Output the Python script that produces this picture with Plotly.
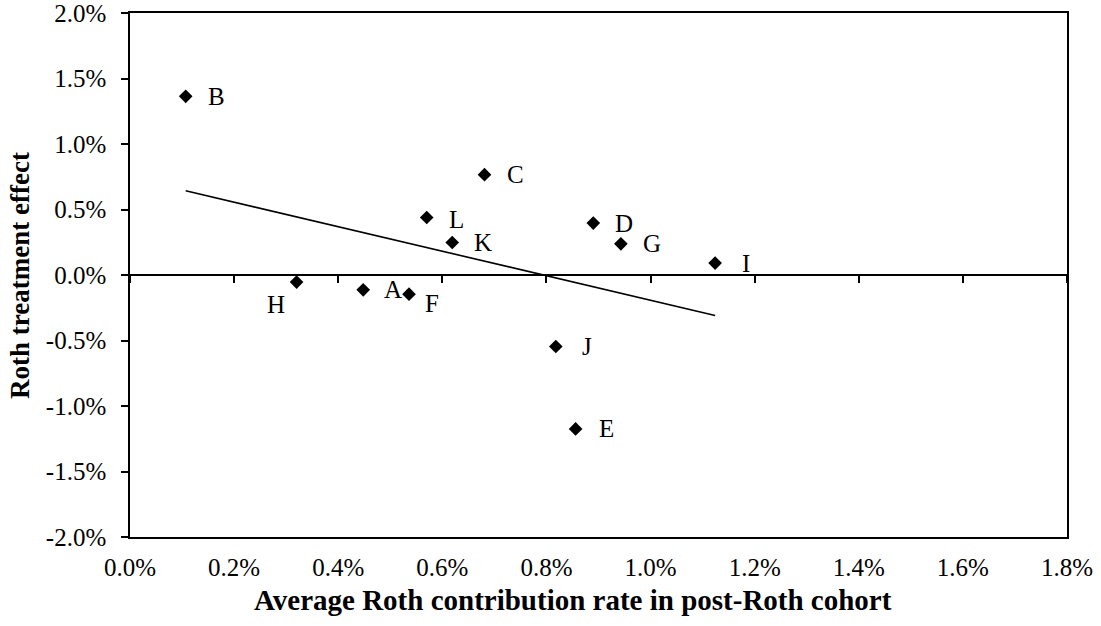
import plotly.graph_objects as go

# Data (percent units)
labels = ["A", "B", "C", "D", "E", "F", "G", "H", "I", "J", "K", "L"]
roth_rate = [0.448, 0.107, 0.681, 0.890, 0.856, 0.536, 0.943, 0.320, 1.124, 0.818, 0.619, 0.570]
treatment = [-0.113, 1.364, 0.766, 0.396, -1.175, -0.146, 0.238, -0.054, 0.091, -0.546, 0.248, 0.439]

trend_x = [0.107, 1.124]
trend_y = [0.643, -0.309]

x_range = [0.0, 1.8]
y_range = [-2.0, 2.0]
x_ticks = [0.0, 0.2, 0.4, 0.6, 0.8, 1.0, 1.2, 1.4, 1.6, 1.8]
x_tick_labels = ["0.0%", "0.2%", "0.4%", "0.6%", "0.8%", "1.0%", "1.2%", "1.4%", "1.6%", "1.8%"]
y_ticks = [-2.0, -1.5, -1.0, -0.5, 0.0, 0.5, 1.0, 1.5, 2.0]
y_tick_labels = ["-2.0%", "-1.5%", "-1.0%", "-0.5%", "0.0%", "0.5%", "1.0%", "1.5%", "2.0%"]

label_shift = {"H": (-21, -22), "F": (23, -9), "A": (30, 0), "L": (30, -2)}
default_shift = (31, 0)

FONT = "Liberation Serif, Times New Roman, serif"
FS = 25

fig = go.Figure()
fig.add_trace(go.Scatter(x=trend_x, y=trend_y, mode="lines",
    line=dict(color="black", width=1.6), hoverinfo="skip", showlegend=False))
fig.add_trace(go.Scatter(x=roth_rate, y=treatment, mode="markers",
    marker=dict(symbol="diamond", size=10.5, color="black"), showlegend=False))
# invisible trace so the overlay axis (the 0% line with ticks) is drawn
fig.add_trace(go.Scatter(x=[0], y=[0], xaxis="x2", yaxis="y", mode="markers",
                         marker=dict(opacity=0), hoverinfo="skip", showlegend=False))

for lab, xv, yv in zip(labels, roth_rate, treatment):
    dx, dy = label_shift.get(lab, default_shift)
    fig.add_annotation(x=xv, y=yv, text=lab, showarrow=False, xshift=dx, yshift=dy,
                       font=dict(family=FONT, size=FS, color="black"))

fig.add_annotation(xref="paper", yref="paper", x=-0.1174, y=0.5, xanchor="center", yanchor="middle",
                   text="<b>Roth treatment effect</b>", textangle=-90, showarrow=False,
                   font=dict(family=FONT, size=27, color="black"))
fig.add_annotation(xref="paper", yref="paper", x=0.473, y=-0.121, xanchor="center", yanchor="middle",
                   text="<b>Average Roth contribution rate in post-Roth cohort</b>", showarrow=False,
                   font=dict(family=FONT, size=29, color="black"))

fig.update_layout(
    width=1101, height=626,
    margin=dict(l=130, r=34, t=13, b=89),
    paper_bgcolor="white", plot_bgcolor="white",
    font=dict(family=FONT, size=FS, color="black"),
    xaxis=dict(range=x_range, tickvals=x_ticks, ticktext=x_tick_labels,
               showline=True, mirror=True, linecolor="black", linewidth=1.5,
               ticks="", showgrid=False, zeroline=False,
               ticklabelstandoff=7, automargin=False, ticklabeloverflow="allow"),
    xaxis2=dict(range=x_range, overlaying="x", anchor="free", position=0.5,
                tickvals=x_ticks, showticklabels=False, ticks="outside", ticklen=7,
                tickwidth=1.5, tickcolor="black",
                showline=True, linecolor="black", linewidth=1.8,
                showgrid=False, zeroline=False, automargin=False),
    yaxis=dict(range=y_range, tickvals=y_ticks, ticktext=y_tick_labels,
               showline=True, mirror=True, linecolor="black", linewidth=1.5,
               ticks="outside", ticklen=7, tickwidth=1.5, tickcolor="black",
               showgrid=False, zeroline=False, ticklabelstandoff=10,
               automargin=False, ticklabeloverflow="allow"),
)

fig.write_html("out.html")
